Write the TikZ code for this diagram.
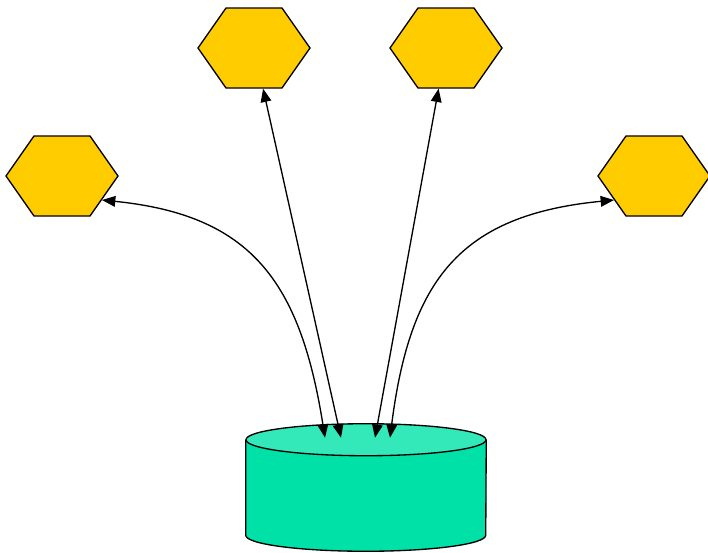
\documentclass[tikz,border=0pt]{standalone}
\usetikzlibrary{shapes.symbols,arrows.meta,calc}
\definecolor{hexyellow}{HTML}{FFCC00}
\definecolor{dbbody}{HTML}{00E1A7}
\definecolor{dbtop}{HTML}{33E8B9}
\tikzset{
    hexnode/.style={signal,signal to=east and west,signal pointer angle=110,
        draw,line width=1pt,fill=hexyellow,minimum width=84pt,minimum height=60pt,inner sep=0pt},
    dbnode/.style={rectangle,minimum width=180pt,minimum height=95.25pt,inner sep=0pt},
    link/.style={line width=1pt,{Triangle[length=10pt,width=8pt]}-{Triangle[length=10pt,width=8pt]}},
}

\begin{document}
\begin{tikzpicture}[x=0.75pt,y=-0.75pt]
    \useasboundingbox (0,0) rectangle (708,553);
    \node[hexnode] (hl) at (62,176) {};
    \node[hexnode] (htl) at (254,48) {};
    \node[hexnode] (htr) at (446,48) {};
    \node[hexnode] (hr) at (654,176) {};
    \node[dbnode] (db) at (366,487.5) {};
    % the store: body, then the lid on top
    \draw[line width=1pt,fill=dbbody] ([yshift=-12pt]db.north west) -- ([yshift=12pt]db.south west)
        arc[start angle=180,end angle=360,x radius=90pt,y radius=12pt]
        -- ([yshift=-12pt]db.north east);
    \draw[line width=1pt,fill=dbtop] ([yshift=-12pt]db.north) ellipse[x radius=90pt,y radius=12pt];
    % ends of the links on the lid
    \coordinate (e1) at ($(db.north)+(-41,14)$);
    \coordinate (e2) at ($(db.north)+(-25,14)$);
    \coordinate (e3) at ($(db.north)+(9,14)$);
    \coordinate (e4) at ($(db.north)+(24,14)$);
    \draw[link] (hl.-31) .. controls (250,215) and (300,280) .. (e1);
    \draw[link] (htl) -- (e2);
    \draw[link] (htr) -- (e3);
    \draw[link] (hr.211) .. controls (460,215) and (410,280) .. (e4);
\end{tikzpicture}
\end{document}
